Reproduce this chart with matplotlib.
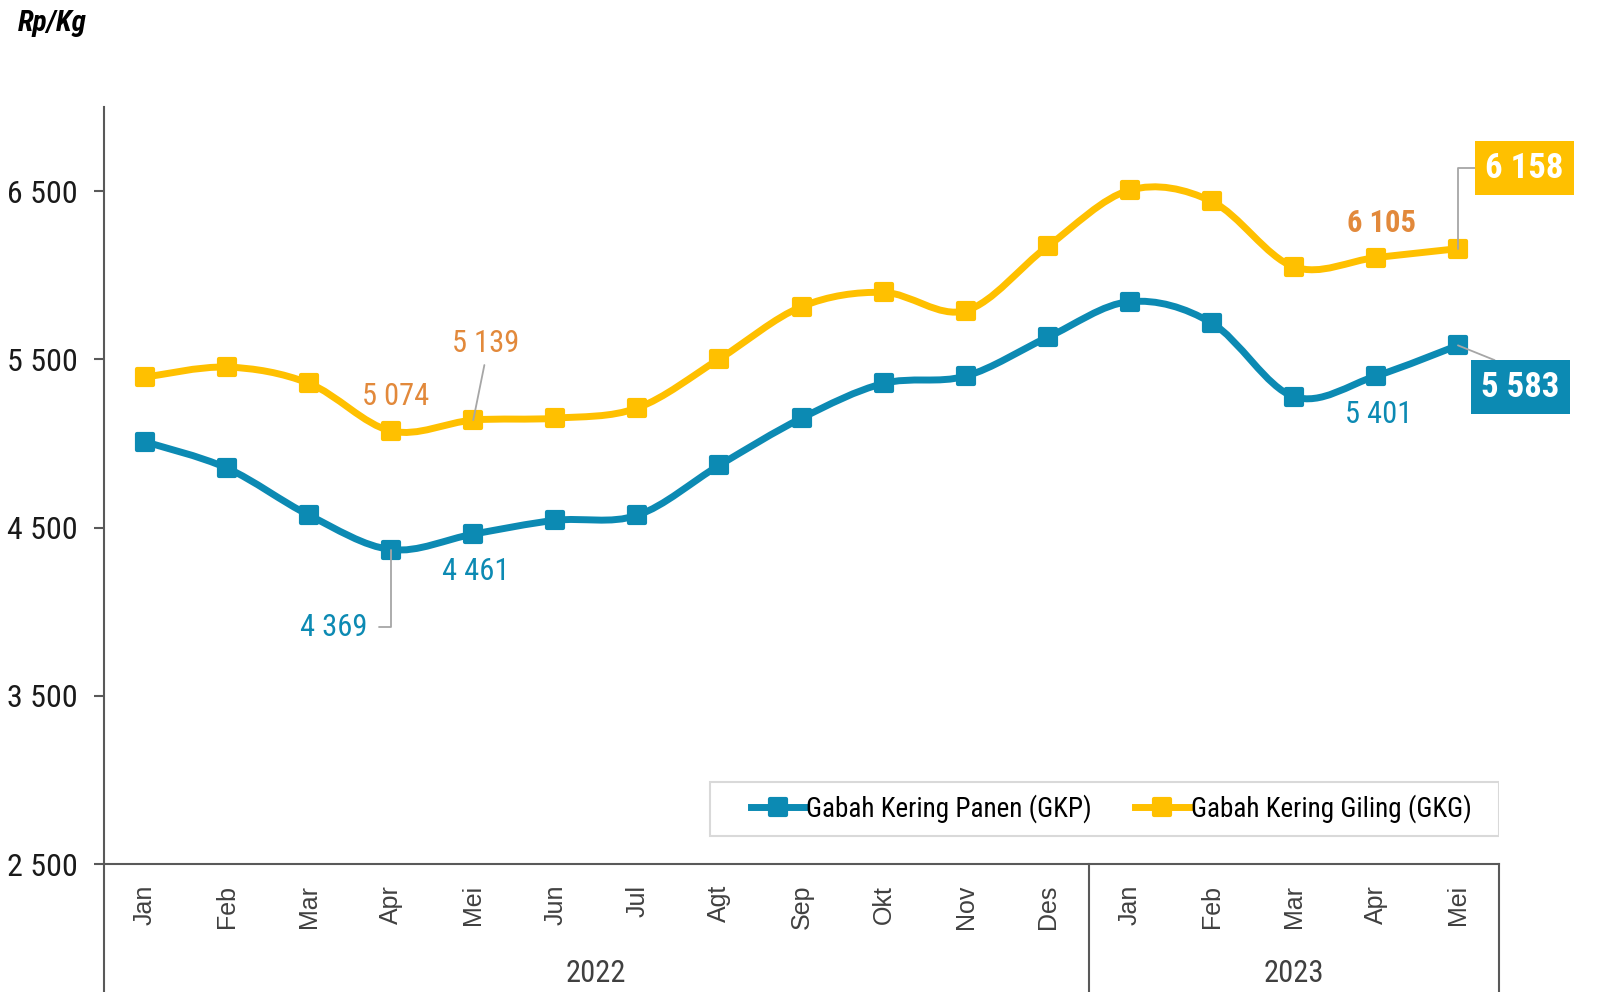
import matplotlib
matplotlib.use('Agg')
import matplotlib.pyplot as plt
import numpy as np
from matplotlib.path import Path
from matplotlib.patches import PathPatch, Rectangle
from matplotlib.lines import Line2D
from matplotlib.markers import MarkerStyle

# data (Rp/Kg), Jan 2022 - Mei 2023
months = ['Jan', 'Feb', 'Mar', 'Apr', 'Mei', 'Jun', 'Jul', 'Agt', 'Sep',
          'Okt', 'Nov', 'Des', 'Jan', 'Feb', 'Mar', 'Apr', 'Mei']
years = ['2022', '2023']
months_per_year = [12, 5]
gkp = [5010, 4853, 4573, 4369, 4461, 4543, 4573, 4871, 5150, 5357, 5400,
       5631, 5843, 5716, 5278, 5401, 5583]
gkg = [5394, 5454, 5357, 5074, 5139, 5150, 5211, 5503, 5813, 5898, 5789,
       6172, 6506, 6439, 6050, 6105, 6158]
yticks = [2500, 3500, 4500, 5500, 6500]

BLUE = '#0C8AB3'
YELLOW = '#FFC000'
ORANGE = '#E2893B'
AXCOL = '#595959'
LEADER = '#A6A6A6'
NARROW = ['Roboto Condensed', 'DejaVu Sans']
REGULAR = ['Liberation Sans', 'DejaVu Sans']


def fmt(v):
    return f"{v:,}".replace(',', ' ')


def smooth_path(x, y):
    # excel-like smoothed line as cubic bezier segments
    pts = np.column_stack([x, y]).astype(float)
    n = len(pts)
    verts = [pts[0]]
    codes = [Path.MOVETO]
    for i in range(n - 1):
        p0 = pts[i - 1] if i > 0 else pts[i]
        p1 = pts[i]
        p2 = pts[i + 1]
        p3 = pts[i + 2] if i + 2 < n else pts[i + 1]
        verts += [p1 + (p2 - p0) / 6, p2 - (p3 - p1) / 6, p2]
        codes += [Path.CURVE4] * 3
    return Path(verts, codes)


fig = plt.figure(figsize=(16.02, 9.92), dpi=100)
ax = fig.add_axes([104 / 1602, 128 / 992, 1395 / 1602, 757 / 992])

x = np.arange(len(months))
sq = MarkerStyle('s', joinstyle='round')
for vals, col in [(gkg, YELLOW), (gkp, BLUE)]:
    ax.add_patch(PathPatch(smooth_path(x, vals), fill=False, edgecolor=col,
                           lw=5, capstyle='round', joinstyle='round', zorder=2))
    ax.plot(x, vals, ls='none', marker=sq, ms=11, mew=3, color=col,
            mec=col, zorder=3)

ax.set_xlim(-0.5, len(months) - 0.5)
ax.set_ylim(2500, 7000)

for s in ['top', 'right']:
    ax.spines[s].set_visible(False)
for s in ['left', 'bottom']:
    ax.spines[s].set_color(AXCOL)
    ax.spines[s].set_linewidth(1.5)

ax.set_yticks(yticks)
ax.set_yticklabels([fmt(v) for v in yticks], family=NARROW, fontsize=23,
                   color='#1A1A1A')
ax.tick_params(axis='y', length=7, width=1.5, color=AXCOL, pad=12)
ax.set_xticks(x)
ax.set_xticklabels(months, rotation=90, family=REGULAR, fontsize=18,
                   color='#404040')
ax.tick_params(axis='x', length=0, pad=15)

# multi-level category axis
trans = ax.get_xaxis_transform()
start = -0.5
bounds = [start]
for yr, n in zip(years, months_per_year):
    ax.text(start + n / 2, -0.145, yr, transform=trans, ha='center',
            va='center', family=NARROW, fontsize=22, color='#404040')
    start += n
    bounds.append(start)
for b in bounds:
    ax.plot([b, b], [0, -0.17], transform=trans, color=AXCOL, lw=1.5,
            clip_on=False)

# data labels
lab = dict(textcoords='offset points', family=NARROW, fontsize=22)
arr = dict(arrowstyle='-', color=LEADER, lw=1.3, shrinkB=0)

ax.annotate(fmt(gkp[3]), xy=(3, gkp[3]), xytext=(-17, -56), ha='right',
            va='center', color=BLUE, zorder=4,
            arrowprops=dict(arr, connectionstyle='angle,angleA=0,angleB=90,rad=0',
                            relpos=(1, 0.5), shrinkA=6), **lab)
ax.annotate(fmt(gkp[4]), xy=(4, gkp[4]), xytext=(2, -27), ha='center',
            va='center', color=BLUE, **lab)
ax.annotate(fmt(gkg[3]), xy=(3, gkg[3]), xytext=(3, 25), ha='center',
            va='center', color=ORANGE, **lab)
ax.annotate(fmt(gkg[4]), xy=(4, gkg[4]), xytext=(9, 55), ha='center',
            va='center', color=ORANGE, zorder=4,
            arrowprops=dict(arr, relpos=(0.5, 0), shrinkA=3), **lab)
ax.annotate(fmt(gkp[15]), xy=(15, gkp[15]), xytext=(2, -28), ha='center',
            va='center', color=BLUE, **lab)
ax.annotate(fmt(gkg[15]), xy=(15, gkg[15]), xytext=(4, 25), ha='center',
            va='center', color=ORANGE, fontweight='bold', **lab)

box = dict(textcoords='offset points', family=NARROW, fontsize=25,
           fontweight='bold', color='white', ha='center', va='center',
           annotation_clip=False, zorder=4)
ax.annotate(fmt(gkg[16]), xy=(16, gkg[16]), xytext=(48, 58),
            bbox=dict(boxstyle='square,pad=0.3', fc=YELLOW, ec='none'),
            arrowprops=dict(arr, connectionstyle='angle,angleA=0,angleB=90,rad=0',
                            relpos=(0, 0.5), shrinkA=0), **box)
ax.annotate(fmt(gkp[16]), xy=(16, gkp[16]), xytext=(45, -30),
            bbox=dict(boxstyle='square,pad=0.3', fc=BLUE, ec='none'),
            arrowprops=dict(arr, relpos=(0.5, 1), shrinkA=0), **box)

# legend with a plain light frame
ax.add_patch(Rectangle((0.4344, 0.037), 0.5656, 0.0713, transform=ax.transAxes,
                       fill=False, edgecolor='#D9D9D9', lw=1.5, zorder=1))
handles = [Line2D([], [], color=BLUE, lw=5, marker=sq, ms=11, mew=3,
                  label='Gabah Kering Panen (GKP)'),
           Line2D([], [], color=YELLOW, lw=5, marker=sq, ms=11, mew=3,
                  label='Gabah Kering Giling (GKG)')]
ax.legend(handles=handles, loc='center', bbox_to_anchor=(0.722, 0.0727),
          ncol=2, frameon=False, prop={'family': NARROW, 'size': 19.5},
          handlelength=2.0, handletextpad=0.05, columnspacing=1.6,
          borderaxespad=0)

fig.text(18 / 1602, 1 - 23 / 992, 'Rp/Kg', ha='left', va='center',
         family=NARROW, fontsize=21, fontweight='bold', style='italic')

fig.savefig('out.png', dpi=100)
